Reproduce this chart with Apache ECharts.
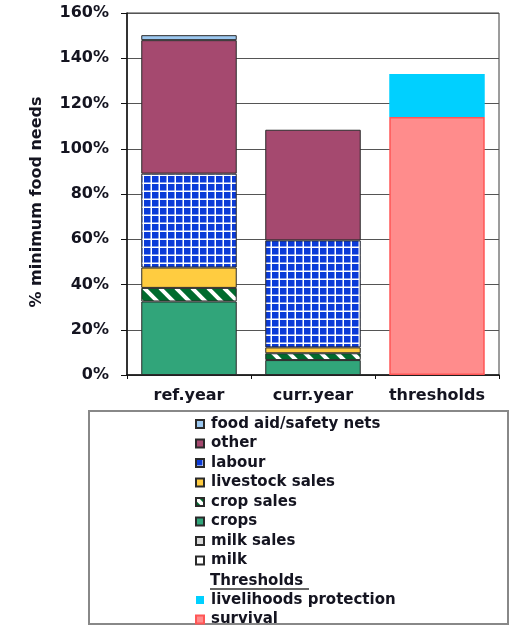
<!DOCTYPE html>
<html>
<head>
<meta charset="utf-8">
<script src="https://cdn.jsdelivr.net/npm/echarts@6/dist/echarts.min.js"></script>
<style>
html,body{margin:0;padding:0;background:#fff;}
#chart{width:526px;height:626px;}
</style>
</head>
<body>
<div id="chart"></div>
<script>
// ---- data ----
const categories = ['ref.year', 'curr.year', 'thresholds'];
const foodAid        = [2.2, null, null];
const other          = [59, 48.9, null];
const labour         = [41.5, 47.3, null];
const livestockSales = [9, 2.6, null];
const cropSales      = [6, 3, null];
const crops          = [32.5, 6.6, null];
const milkSales      = [null, null, null];
const milk           = [null, null, null];
const livelihoods    = [null, null, 19];
const survival       = [null, null, 114];
const yMin = 0, yMax = 160, yStep = 20;
const incomeLegend = ['food aid/safety nets', 'other', 'labour', 'livestock sales', 'crop sales', 'crops', 'milk sales', 'milk'];
const thresholdLegend = ['livelihoods protection', 'survival'];
const thresholdHeader = 'Thresholds';
const yAxisTitle = '% minimum food needs';

// ---- patterns ----
function gridPattern() {
  const c = document.createElement('canvas');
  c.width = 8; c.height = 8;
  const g = c.getContext('2d');
  g.fillStyle = '#ffffff'; g.fillRect(0, 0, 8, 8);
  g.fillStyle = '#0a3ad8'; g.fillRect(0, 0, 6.5, 6.5);
  return c;
}
function stripePattern() {
  const s = 16;
  const c = document.createElement('canvas');
  c.width = s; c.height = s;
  const g = c.getContext('2d');
  g.fillStyle = '#006b2e'; g.fillRect(0, 0, s, s);
  g.strokeStyle = '#ffffff'; g.lineWidth = 4;
  for (let k = -1; k <= 1; k++) {
    g.beginPath();
    g.moveTo(k * s, 0); g.lineTo(k * s + s, s);
    g.stroke();
  }
  return c;
}

const FONT = 'DejaVu Sans';
const TXT = '#141420';
const border = { borderColor: '#2a2a2a', borderWidth: 1 };

function bar(name, data, color, extra) {
  return Object.assign({
    name: name, type: 'bar', stack: 'total', data: data,
    barWidth: '77%',
    itemStyle: Object.assign({ color: color }, border)
  }, extra || {});
}

const legendText = { fontFamily: FONT, fontWeight: 'bold', fontSize: 15, lineHeight: 15, color: TXT, padding: [0, 0, 0, 2] };

const chart = echarts.init(document.getElementById('chart'), null, { renderer: 'canvas' });
const option = {
  animation: false,
  backgroundColor: '#ffffff',
  grid: { left: 127, right: 27, top: 13, bottom: 251, show: true, borderColor: '#3a3a3a', borderWidth: 1 },
  xAxis: {
    type: 'category', data: categories,
    axisLine: { lineStyle: { color: '#111', width: 1.5 } },
    axisTick: { show: true, length: 4, lineStyle: { color: '#111' } },
    axisLabel: { interval: 0, hideOverlap: false, fontFamily: FONT, fontWeight: 'bold', fontSize: 16, color: TXT, margin: 13 }
  },
  yAxis: {
    type: 'value', min: yMin, max: yMax, interval: yStep,
    name: yAxisTitle, nameLocation: 'middle', nameGap: 82, nameRotate: 90,
    nameTextStyle: { fontFamily: FONT, fontWeight: 'bold', fontSize: 16, color: TXT, padding: [0, 16, 0, 0] },
    axisLine: { show: true, lineStyle: { color: '#111', width: 1.5 } },
    axisTick: { show: true, length: 6, lineStyle: { color: '#111' } },
    axisLabel: { formatter: '{value}%', fontFamily: FONT, fontWeight: 'bold', fontSize: 16, color: TXT, margin: 18 },
    splitLine: { show: true, lineStyle: { color: '#555', width: 1 } }
  },
  legend: [
    {
      orient: 'vertical', left: 195, top: 416.5, padding: 0,
      itemWidth: 8, itemHeight: 8, itemGap: 4.5,
      icon: 'rect',
      textStyle: legendText,
      data: incomeLegend,
      selectedMode: false
    },
    {
      orient: 'vertical', left: 195, top: 592.5, padding: 0, height: 40,
      itemWidth: 8, itemHeight: 8, itemGap: 4.5,
      icon: 'rect',
      textStyle: legendText,
      data: thresholdLegend,
      selectedMode: false
    }
  ],
  graphic: [
    { type: 'rect', shape: { x: 89, y: 411, width: 419, height: 213 }, style: { fill: 'none', stroke: '#888', lineWidth: 2 }, silent: true },
    { type: 'text', x: 210, y: 581, style: { text: thresholdHeader, font: 'bold 15px "DejaVu Sans"', fill: TXT, textVerticalAlign: 'middle' } },
    { type: 'line', shape: { x1: 210, y1: 589, x2: 309, y2: 589 }, style: { stroke: '#333', lineWidth: 1.5 } }
  ],
  series: [
    bar('milk', milk, '#ffffff'),
    bar('milk sales', milkSales, '#d9d9d9'),
    bar('crops', crops, '#31a57a'),
    bar('crop sales', cropSales, { image: stripePattern(), repeat: 'repeat' }),
    bar('livestock sales', livestockSales, '#ffcc40'),
    bar('labour', labour, { image: gridPattern(), repeat: 'repeat' }),
    bar('other', other, '#a5496f'),
    bar('food aid/safety nets', foodAid, '#9cc8f0'),
    bar('survival', survival, '#ff8c8c', { itemStyle: { color: '#ff8c8c', borderColor: '#ff5656', borderWidth: 1.5 } }),
    bar('livelihoods protection', livelihoods, '#00d0ff', { itemStyle: { color: '#00d0ff', borderWidth: 0 } })
  ]
};
chart.setOption(option);
</script>
</body>
</html>
